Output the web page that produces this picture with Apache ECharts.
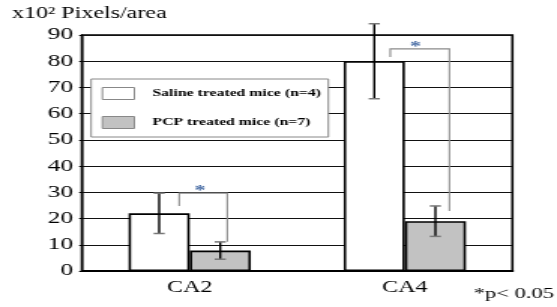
<!DOCTYPE html>
<html>
<head>
<meta charset="utf-8">
<script src="https://cdn.jsdelivr.net/npm/echarts@6/dist/echarts.min.js"></script>
<style>
  html, body { margin: 0; padding: 0; background: #fff; overflow: hidden; }
  /* the reference figure is stretched sideways, so the chart is drawn narrow and widened */
  #chart { width: 371px; height: 307px; transform: scaleX(1.5013); transform-origin: 0 0; }
</style>
</head>
<body>
<div id="chart"></div>
<script>
// data (x10^2 pixels/area)
const categories = ['CA2', 'CA4']
const salineMeans = [22, 80]
const salineErrors = [7.7, 14.3]
const pcpMeans = [7.8, 19]
const pcpErrors = [3.3, 5.8]
// significance brackets: top of bracket, end of left leg, end of right leg
const bracketTops = [29.7, 84.7]
const bracketLeftEnds = [24.8, 81.6]
const bracketRightEnds = [11.2, 22.9]

const SERIF = '"Liberation Serif", "Times New Roman", serif'
const BAR_W = 40.7
// horizontal place of the bracket legs, px from the category centre
const bracketLegs = [[-7, 25], [-9.7, 29.7]]

const chart = echarts.init(document.getElementById('chart'))

chart.setOption({
  animation: false,
  title: [
    {
      text: 'x10² Pixels/area',
      left: 8,
      top: 6,
      padding: 0,
      textStyle: { fontFamily: SERIF, fontSize: 16, fontWeight: 'normal', color: '#000' }
    },
    {
      text: '*p< 0.05',
      right: 2,
      top: 287,
      padding: 0,
      textStyle: { fontFamily: SERIF, fontSize: 15, fontWeight: 'normal', color: '#000' }
    }
  ],
  legend: {
    orient: 'vertical',
    left: 60.7,
    top: 79,
    padding: [8, 5, 8, 7],
    itemGap: 16,
    itemWidth: 21.3,
    itemHeight: 12,
    icon: 'rect',
    backgroundColor: '#fff',
    borderColor: '#888',
    borderWidth: 1,
    borderRadius: 0,
    itemStyle: { borderColor: '#888', borderWidth: 1 },
    textStyle: { fontFamily: SERIF, fontSize: 10.5, fontWeight: 'bold', color: '#000', padding: [0, 0, 0, 7] },
    data: ['Saline treated mice (n=4)', 'PCP treated mice (n=7)']
  },
  grid: {
    left: 54.7,
    right: 29.7,
    top: 35,
    bottom: 36,
    containLabel: false,
    outerBoundsMode: 'none',
    show: true,
    borderColor: '#000',
    borderWidth: 1.6
  },
  xAxis: {
    type: 'category',
    data: categories,
    axisLine: { lineStyle: { color: '#000', width: 2 } },
    axisTick: { show: false },
    axisLabel: { color: '#000', fontFamily: SERIF, fontSize: 16, margin: 9 },
    splitLine: { show: false }
  },
  yAxis: {
    type: 'value',
    min: 0,
    max: 90,
    interval: 10,
    axisLine: { show: true, lineStyle: { color: '#000', width: 1.4 } },
    axisTick: { show: true, length: 2, lineStyle: { color: '#000' } },
    axisLabel: { color: '#000', fontFamily: SERIF, fontSize: 17, margin: 6 },
    splitLine: { lineStyle: { color: '#111', width: 1 } }
  },
  series: [
    {
      name: 'Saline treated mice (n=4)',
      type: 'bar',
      data: salineMeans,
      barWidth: BAR_W,
      barGap: '0%',
      itemStyle: { color: '#fff', borderColor: '#000', borderWidth: 1.6 }
    },
    {
      name: 'PCP treated mice (n=7)',
      type: 'bar',
      data: pcpMeans,
      barWidth: BAR_W,
      barGap: '0%',
      itemStyle: { color: '#c2c2c2', borderColor: '#000', borderWidth: 1.6 }
    },
    {
      // error bars
      type: 'custom',
      silent: true,
      z: 10,
      data: categories.map((c, i) => [i, salineMeans[i], salineErrors[i], pcpMeans[i], pcpErrors[i]]),
      renderItem (params, api) {
        const i = api.value(0)
        const children = []
        const bars = [
          [api.value(1), api.value(2), -BAR_W / 2],
          [api.value(3), api.value(4), BAR_W / 2]
        ]
        bars.forEach(([m, e, dx]) => {
          const hi = api.coord([i, m + e])
          const lo = api.coord([i, m - e])
          const x = hi[0] + dx
          children.push({ type: 'line', shape: { x1: x, y1: hi[1], x2: x, y2: lo[1] }, style: { stroke: '#000', lineWidth: 1.4 } })
          children.push({ type: 'line', shape: { x1: x - 3.7, y1: hi[1], x2: x + 3.7, y2: hi[1] }, style: { stroke: '#777', lineWidth: 1.5 } })
          children.push({ type: 'line', shape: { x1: x - 3.7, y1: lo[1], x2: x + 3.7, y2: lo[1] }, style: { stroke: '#777', lineWidth: 1.5 } })
        })
        return { type: 'group', children }
      }
    },
    {
      // significance brackets
      type: 'custom',
      silent: true,
      z: 9,
      data: categories.map((c, i) => [i, bracketTops[i], bracketLeftEnds[i], bracketRightEnds[i]]),
      renderItem (params, api) {
        const i = api.value(0)
        const top = api.coord([i, api.value(1)])
        const leftEnd = api.coord([i, api.value(2)])[1]
        const rightEnd = api.coord([i, api.value(3)])[1]
        const xl = top[0] + bracketLegs[i][0]
        const xr = top[0] + bracketLegs[i][1]
        const style = { stroke: '#8a8a8a', lineWidth: 1.1, fill: null }
        return {
          type: 'group',
          children: [
            { type: 'polyline', shape: { points: [[xl, leftEnd], [xl, top[1]], [xr, top[1]], [xr, rightEnd]] }, style },
            {
              type: 'text',
              x: top[0] + 7,
              y: top[1] - 2,
              style: { text: '*', fill: '#4f72a8', font: 'bold 15px ' + SERIF, align: 'center', verticalAlign: 'middle' }
            }
          ]
        }
      }
    }
  ]
})
</script>
</body>
</html>
